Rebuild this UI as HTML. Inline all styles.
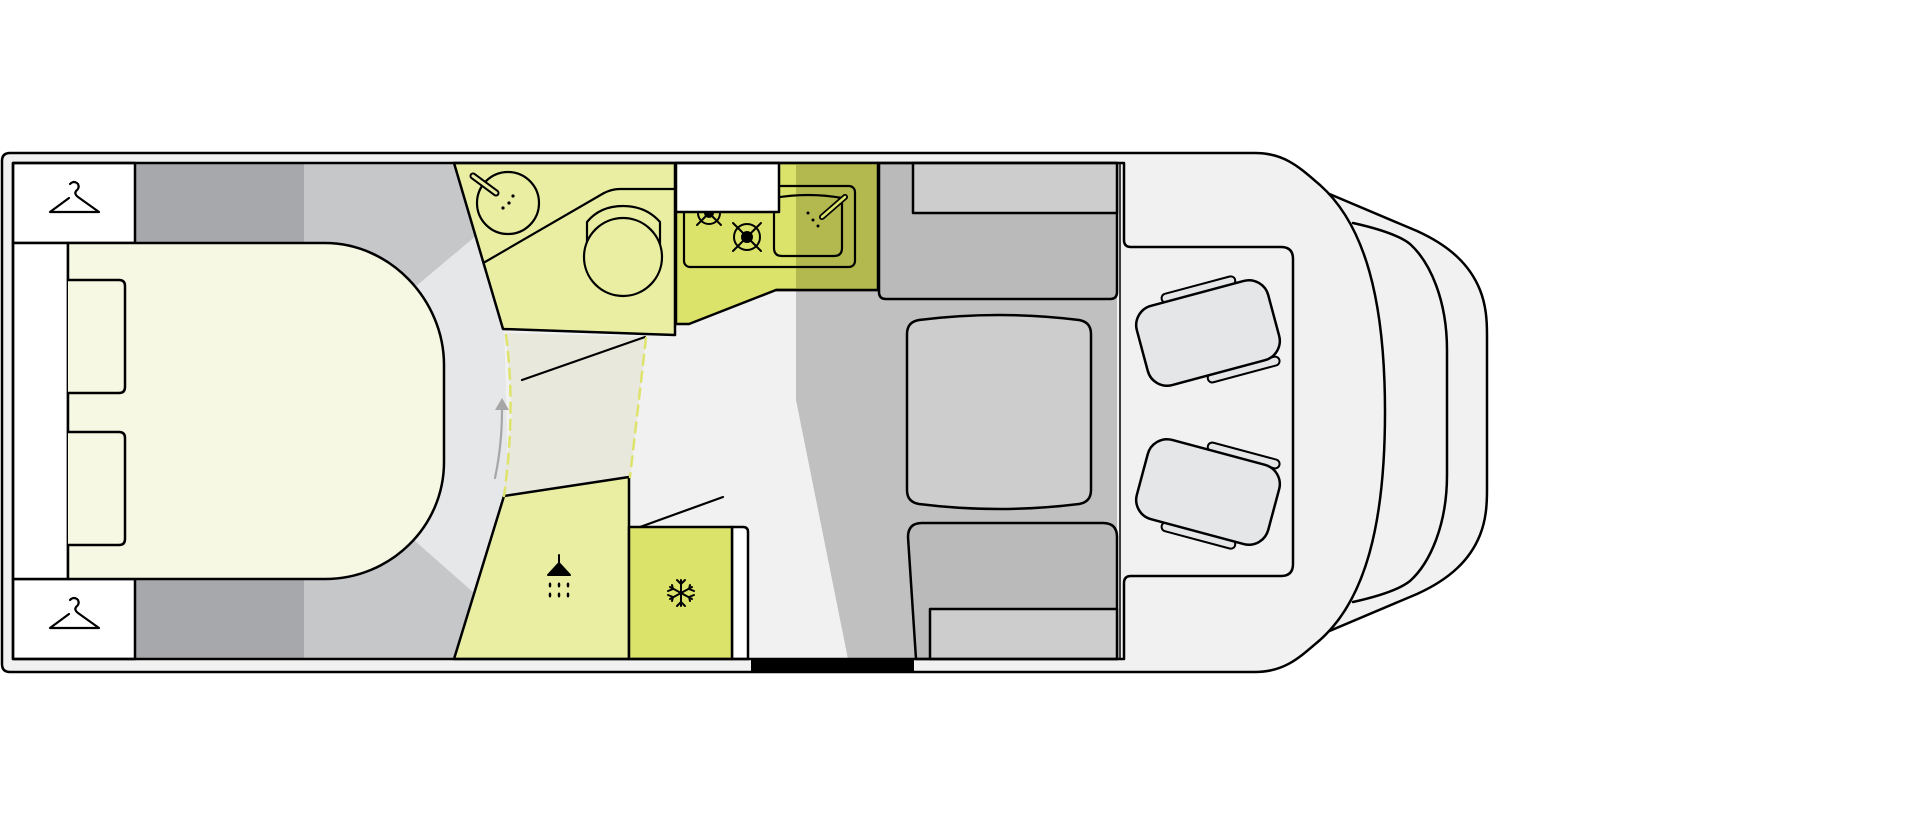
<!DOCTYPE html>
<html><head><meta charset="utf-8"><style>html,body{margin:0;padding:0;background:#fff;}svg{display:block}</style></head>
<body>
<svg width="1920" height="823" viewBox="0 0 1920 823" xmlns="http://www.w3.org/2000/svg" stroke-linejoin="round" stroke-linecap="round">
<!-- cab outer -->
<path d="M1320,190 L1417,231 C1450,246 1470,265 1480,290 C1486,305 1487,320 1487,335 L1487,490 C1487,505 1486,520 1480,535 C1470,560 1450,579 1417,594 L1320,635 Z" fill="#f0f1f0" stroke="#000" stroke-width="2.5"/>
<path d="M1353,223 C1380,229 1400,236 1410,244 C1430,262 1447,300 1447,350 L1447,475 C1447,525 1430,563 1410,581 C1400,589 1380,596 1353,602" fill="none" stroke="#000" stroke-width="2.5"/>
<!-- body -->
<path d="M10,153 L1255,153 C1285,153 1300,168 1320,185 C1365,225 1385,300 1385,412 C1385,525 1365,600 1320,640 C1300,657 1285,672 1255,672 L10,672 Q2,672 2,664 L2,161 Q2,153 10,153 Z" fill="#f0f1f0" stroke="#000" stroke-width="2.5"/>
<!-- interior base -->
<rect x="13" y="163" width="1111" height="496" fill="#f0f1f0"/>
<!-- bands -->
<rect x="135" y="163" width="170" height="496" fill="#a7a8ab"/>
<polygon points="304,163 454,163 504,329 508,496 454,659 304,659" fill="#c6c7c9"/>
<polygon points="415,287 477,235 504,329 508,496 474,593 415,541 380,412" fill="#e6e7e8"/>
<!-- door zone between dashes -->
<polygon points="506,333 646,337 630,478 504,496 512,410" fill="#e8e8dc"/>
<!-- dining gray -->
<polygon points="796,290 1117,290 1117,659 848,659 796,400" fill="#c0c0c0"/>
<!-- wardrobes -->
<rect x="13" y="163" width="122" height="80" fill="#fff" stroke="#000" stroke-width="2.5"/>
<rect x="13" y="579" width="122" height="80" fill="#fff" stroke="#000" stroke-width="2.5"/>
<g fill="none" stroke="#000" stroke-width="2.2">
<path d="M69,198 L50,212 L99,212 L78,197 Q74,194 76,191 Q80,188 78,184 Q74,180 70,184"/>
<path d="M69,614 L50,628 L99,628 L78,613 Q74,610 76,607 Q80,604 78,600 Q74,596 70,600"/>
</g>
<!-- bed -->
<rect x="13" y="243" width="55" height="336" fill="#fff" stroke="#000" stroke-width="2.5"/>
<path d="M68,243 L325,243 C390,243 444,300 444,365 L444,462 C444,527 390,579 325,579 L68,579 Z" fill="#f6f8e3" stroke="#000" stroke-width="2.5"/>
<path d="M68,280 L119,280 Q125,280 125,286 L125,387 Q125,393 119,393 L68,393" fill="#f6f8e3" stroke="#000" stroke-width="2.5"/>
<path d="M68,432 L119,432 Q125,432 125,438 L125,539 Q125,545 119,545 L68,545" fill="#f6f8e3" stroke="#000" stroke-width="2.5"/>
<!-- bathroom -->
<polygon points="454,163 675,163 675,335 503,329" fill="#e9eea3" stroke="#000" stroke-width="2.5"/>
<path d="M485,262 L604,193 Q612,189 620,189 L675,189" fill="none" stroke="#000" stroke-width="2.2"/>
<circle cx="508" cy="203" r="31" fill="#e9eea3" stroke="#000" stroke-width="2.2"/>
<path d="M473,176 L496,193" stroke="#000" stroke-width="7"/>
<path d="M473,176 L496,193" stroke="#e9eea3" stroke-width="3"/>
<g fill="#000"><circle cx="513" cy="196" r="1.6"/><circle cx="509" cy="203" r="1.6"/><circle cx="503" cy="208" r="1.6"/></g>
<path d="M587,248 L587,222 Q600,206 623,206 Q646,206 660,222 L660,248" fill="#e9eea3" stroke="#000" stroke-width="2.2"/>
<circle cx="623" cy="257" r="39" fill="#e9eea3" stroke="#000" stroke-width="2.2"/>
<!-- kitchen -->
<polygon points="676,163 878,163 878,290 776,290 689,324 676,324" fill="#dce36a" stroke="#000" stroke-width="2.5"/>
<rect x="796" y="164" width="81" height="125" fill="#b3b94f"/>
<path d="M878,163 L878,290 L776,290" fill="none" stroke="#000" stroke-width="2.5"/>
<rect x="684" y="186" width="171" height="81" rx="6" fill="none" stroke="#000" stroke-width="2.2"/>
<path d="M774,198 Q808,192 842,198 L842,248 Q842,256 834,256 L782,256 Q774,256 774,248 Z" fill="none" stroke="#000" stroke-width="2.2"/>
<path d="M822,217 L845,197" stroke="#000" stroke-width="6"/><path d="M822,217 L845,197" stroke="#dce36a" stroke-width="2.5"/>
<g fill="#000"><circle cx="808" cy="213" r="1.5"/><circle cx="813" cy="220" r="1.5"/><circle cx="818" cy="226" r="1.5"/></g>
<g stroke="#000" stroke-width="2" fill="none">
<circle cx="747" cy="237" r="13"/><path d="M733,223 L761,251 M761,223 L733,251"/>
<circle cx="709" cy="213" r="11"/><path d="M697,201 L721,225 M721,201 L697,225"/>
</g>
<circle cx="747" cy="237" r="6" fill="#000"/><circle cx="709" cy="213" r="5" fill="#000"/>
<rect x="676" y="163" width="103" height="49" fill="#fff" stroke="#000" stroke-width="2.5"/>
<!-- shower -->
<polygon points="504,496 629,477 629,659 454,659" fill="#e9eea3" stroke="#000" stroke-width="2.5"/>
<path d="M559,555 L559,563 L570,575 L548,575 L559,563" fill="#000" stroke="#000" stroke-width="2"/>
<g fill="#000"><ellipse cx="550" cy="585" rx="1.3" ry="2.5"/><ellipse cx="559" cy="585" rx="1.3" ry="2.5"/><ellipse cx="568" cy="585" rx="1.3" ry="2.5"/><ellipse cx="550" cy="595" rx="1.3" ry="2.5"/><ellipse cx="559" cy="595" rx="1.3" ry="2.5"/><ellipse cx="568" cy="595" rx="1.3" ry="2.5"/></g>
<!-- fridge -->
<path d="M732,527 L743,527 Q748,527 748,532 L748,659 L732,659 Z" fill="#fff" stroke="#000" stroke-width="2.5"/>
<rect x="629" y="527" width="103" height="132" fill="#dce36a" stroke="#000" stroke-width="2.5"/>
<g stroke="#000" stroke-width="2" fill="none">
<path d="M681,580 L681,606 M670,587 L692,599 M692,587 L670,599"/>
<path d="M677,580 L681,584 L685,580 M677,606 L681,602 L685,606 M668,591 L673,589 L672,585 M694,591 L689,589 L690,585 M668,595 L673,597 L672,601 M694,595 L689,597 L690,601"/>
</g>
<!-- doors / dashes -->
<path d="M522,380 L645,337" stroke="#000" stroke-width="2.2"/>
<path d="M640,527 L723,497" stroke="#000" stroke-width="2.2"/>
<path d="M506,335 Q516,410 504,496" fill="none" stroke="#dde36b" stroke-width="2.5" stroke-dasharray="10,7"/>
<path d="M646,338 L630,477" fill="none" stroke="#dde36b" stroke-width="2.5" stroke-dasharray="10,7"/>
<path d="M495,478 Q502,445 502,410" fill="none" stroke="#a6a6a6" stroke-width="2.2"/>
<polygon points="502,398 495,410 509,410" fill="#a6a6a6"/>
<!-- dining -->
<path d="M879,163 L1117,163 L1117,292 Q1117,299 1110,299 L886,299 Q879,299 879,292 Z" fill="#b9bab9" stroke="#000" stroke-width="2.5"/>
<rect x="913" y="163" width="204" height="50" fill="#cdcdcd" stroke="#000" stroke-width="2.5"/>
<path d="M919,320 Q999,310 1079,320 Q1091,322 1091,334 L1091,490 Q1091,502 1079,504 Q999,514 919,504 Q907,502 907,490 L907,334 Q907,322 919,320 Z" fill="#cdcdcd" stroke="#000" stroke-width="2.5"/>
<path d="M916,659 L908,537 Q908,523 922,523 L1103,523 Q1117,523 1117,537 L1117,659 Z" fill="#b9bab9" stroke="#000" stroke-width="2.5"/>
<rect x="930" y="609" width="187" height="50" fill="#cdcdcd" stroke="#000" stroke-width="2.5"/>
<!-- inner wall -->
<path d="M13,659 L13,163 L1124,163 L1124,240 Q1124,247 1131,247 L1281,247 Q1293,247 1293,259 L1293,564 Q1293,576 1281,576 L1131,576 Q1124,576 1124,583 L1124,659 Z" fill="none" stroke="#000" stroke-width="2.5"/>
<path d="M1120,163 L1120,659" stroke="#000" stroke-width="1.5"/>
<rect x="751" y="660" width="163" height="12" fill="#000"/>
<!-- seats -->
<g transform="translate(1208,333) rotate(-15)">
<rect x="-36" y="-49" width="76" height="9" rx="4.5" fill="#e5e6e8" stroke="#000" stroke-width="2"/>
<rect x="-12" y="40" width="74" height="9" rx="4.5" fill="#e5e6e8" stroke="#000" stroke-width="2"/>
<rect x="-68" y="-41" width="136" height="82" rx="20" fill="#e5e6e8" stroke="#000" stroke-width="2.5"/>
</g>
<g transform="translate(1208,492) rotate(15)">
<rect x="-12" y="-49" width="74" height="9" rx="4.5" fill="#e5e6e8" stroke="#000" stroke-width="2"/>
<rect x="-36" y="40" width="76" height="9" rx="4.5" fill="#e5e6e8" stroke="#000" stroke-width="2"/>
<rect x="-68" y="-41" width="136" height="82" rx="20" fill="#e5e6e8" stroke="#000" stroke-width="2.5"/>
</g>
</svg>
</body></html>
